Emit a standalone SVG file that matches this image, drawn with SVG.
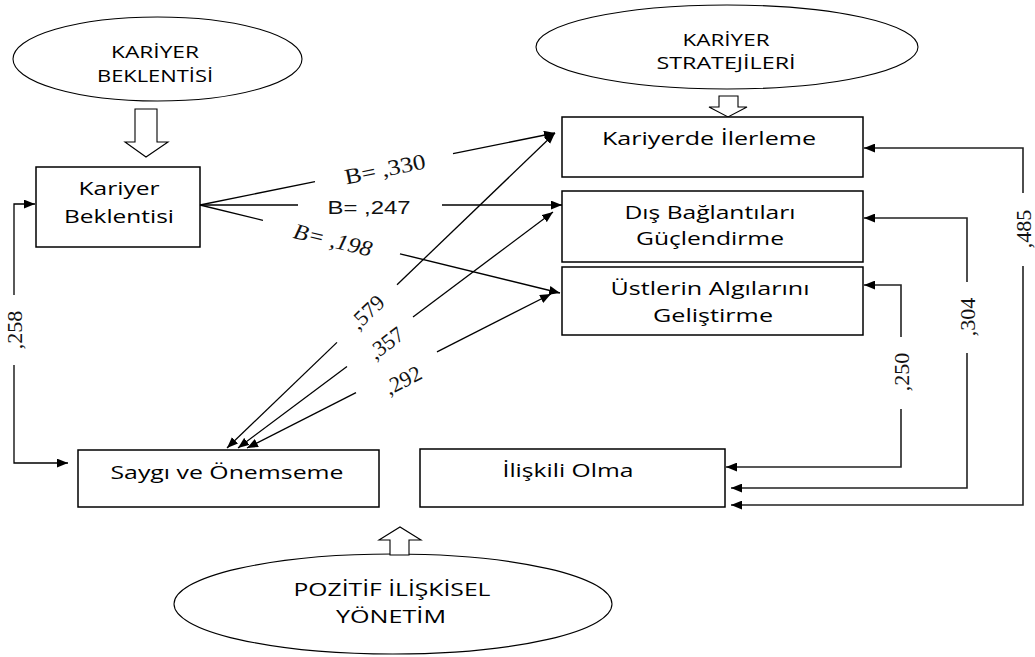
<svg xmlns="http://www.w3.org/2000/svg" width="1035" height="657" viewBox="0 0 1035 657">
<style>
.box{fill:#fff;stroke:#000;stroke-width:1.5}
.ell{fill:#fff;stroke:#000;stroke-width:1.1}
.hol{fill:#fff;stroke:#000;stroke-width:1.1}
.t{font-family:"Open Sans","DejaVu Sans",sans-serif;font-size:19px;fill:#000;text-anchor:middle}
.h{font-family:"Open Sans","DejaVu Sans",sans-serif;font-size:16px;fill:#000;text-anchor:middle}
.n{font-family:"Liberation Serif","Times New Roman",serif;font-size:22px;fill:#111;text-anchor:middle;dominant-baseline:central}
.c{fill:none;stroke:#000;stroke-width:1.3}
.r{fill:none;stroke:#222;stroke-width:1.6}
</style>
<defs>
<marker id="a" viewBox="0 0 10 8" refX="10" refY="4" markerWidth="11" markerHeight="9" markerUnits="userSpaceOnUse" orient="auto-start-reverse">
<path d="M0,0 L10,4 L0,8 z" fill="#000"/>
</marker>
</defs>

<g id="node-kariyer-beklentisi-ellipse">
<ellipse class="ell" cx="157.5" cy="59" rx="144.5" ry="42"/>
<text class="h" x="155" y="58" textLength="88" lengthAdjust="spacingAndGlyphs">KARİYER</text>
<text class="h" x="155" y="82" textLength="116" lengthAdjust="spacingAndGlyphs">BEKLENTİSİ</text>
<polygon class="hol" points="135,109 157,109 157,142 168,142 146,157 125,142 135,142"/>
</g>

<g id="node-kariyer-stratejileri-ellipse">
<ellipse class="ell" cx="727" cy="47" rx="191" ry="42"/>
<text class="h" x="726" y="46" textLength="87" lengthAdjust="spacingAndGlyphs">KARİYER</text>
<text class="h" x="726" y="69" textLength="139" lengthAdjust="spacingAndGlyphs">STRATEJİLERİ</text>
<polygon class="hol" points="719,96 738,96 738,107 747,107 728,117 709,107 719,107"/>
</g>

<g id="node-pozitif-iliskisel-yonetim">
<ellipse class="ell" cx="393" cy="604" rx="219" ry="50"/>
<text class="h" style="font-size:18px" x="392" y="596" textLength="197" lengthAdjust="spacingAndGlyphs">POZİTİF İLİŞKİSEL</text>
<text class="h" style="font-size:18px" x="391" y="623" textLength="110" lengthAdjust="spacingAndGlyphs">YÖNETİM</text>
<polygon class="hol" points="390,555 390,540 379,540 400,527 421,540 409,540 409,555"/>
</g>

<g id="node-kariyer-beklentisi">
<rect class="box" x="36" y="167" width="164" height="80"/>
<text class="t" x="119" y="195" textLength="81" lengthAdjust="spacingAndGlyphs">Kariyer</text>
<text class="t" x="119" y="223" textLength="110" lengthAdjust="spacingAndGlyphs">Beklentisi</text>
</g>

<g id="node-kariyerde-ilerleme">
<rect class="box" x="562" y="117" width="301" height="60"/>
<text class="t" x="709" y="145" textLength="214" lengthAdjust="spacingAndGlyphs">Kariyerde İlerleme</text>
</g>

<g id="node-dis-baglantilari">
<rect class="box" x="562" y="191" width="301" height="71"/>
<text class="t" x="710" y="219" textLength="171" lengthAdjust="spacingAndGlyphs">Dış Bağlantıları</text>
<text class="t" x="710" y="245" textLength="148" lengthAdjust="spacingAndGlyphs">Güçlendirme</text>
</g>

<g id="node-ustlerin-algilari">
<rect class="box" x="562" y="267" width="301" height="68"/>
<text class="t" x="710" y="295" textLength="199" lengthAdjust="spacingAndGlyphs">Üstlerin Algılarını</text>
<text class="t" x="713" y="322" textLength="120" lengthAdjust="spacingAndGlyphs">Geliştirme</text>
</g>

<g id="node-saygi-ve-onemseme">
<rect class="box" x="78" y="450" width="301" height="57"/>
<text class="t" x="227" y="479" textLength="233" lengthAdjust="spacingAndGlyphs">Saygı ve Önemseme</text>
</g>

<g id="node-iliskili-olma">
<rect class="box" x="420" y="449" width="305" height="58"/>
<text class="t" x="568" y="477" textLength="131" lengthAdjust="spacingAndGlyphs">İlişkili Olma</text>
</g>

<g id="connectors">
<line class="c" x1="200" y1="205" x2="315" y2="181.6"/>
<line class="c" x1="453" y1="153.6" x2="555" y2="133" marker-end="url(#a)"/>
<text class="n" transform="translate(385,169) rotate(-11.5)" textLength="82" lengthAdjust="spacingAndGlyphs">B= ,330</text>

<line class="c" x1="200" y1="205" x2="298" y2="205"/>
<line class="c" x1="442" y1="205" x2="562" y2="205" marker-end="url(#a)"/>
<text class="n" style="font-family:'Liberation Sans',Arial,sans-serif;font-size:19px" x="369" y="207" textLength="83" lengthAdjust="spacingAndGlyphs">B= ,247</text>

<line class="c" x1="200" y1="205" x2="263" y2="220.4"/>
<line class="c" x1="400" y1="253.8" x2="560" y2="293" marker-end="url(#a)"/>
<text class="n" style="font-style:italic" transform="translate(333,240) rotate(13.7)" textLength="80" lengthAdjust="spacingAndGlyphs">B= ,198</text>

<line class="c" x1="227" y1="448" x2="337" y2="342.4" marker-start="url(#a)"/>
<line class="c" x1="397" y1="284.8" x2="555" y2="133" marker-end="url(#a)"/>
<text class="n" transform="translate(367,312) rotate(-44)">,579</text>

<line class="c" x1="238" y1="448" x2="347" y2="366.4" marker-start="url(#a)"/>
<line class="c" x1="413" y1="316.9" x2="553" y2="212" marker-end="url(#a)"/>
<text class="n" transform="translate(386,343) rotate(-37)">,357</text>

<line class="c" x1="247" y1="448" x2="356" y2="392.6" marker-start="url(#a)"/>
<line class="c" x1="437" y1="351.9" x2="551" y2="294" marker-end="url(#a)"/>
<text class="n" transform="translate(403,380) rotate(-27)">,292</text>

<polyline class="c" points="14,295 14,204 35,204" marker-end="url(#a)"/>
<polyline class="c" points="14,365 14,463 68,463" marker-end="url(#a)"/>
<text class="n" transform="translate(14,330) rotate(-90)">,258</text>

<polyline class="r" points="1023,193 1023,148 864,148" marker-end="url(#a)"/>
<polyline class="r" points="1023,266 1023,505 731,505" marker-end="url(#a)"/>
<text class="n" transform="translate(1023,229) rotate(-90)">,485</text>

<polyline class="r" points="967,282 967,218 864,218" marker-end="url(#a)"/>
<polyline class="r" points="967,353 967,488 731,488" marker-end="url(#a)"/>
<text class="n" transform="translate(967,317) rotate(-90)">,304</text>

<polyline class="r" points="901,337 901,285 864,285" marker-end="url(#a)"/>
<polyline class="r" points="901,409 901,467 726,467" marker-end="url(#a)"/>
<text class="n" transform="translate(901,372) rotate(-90)">,250</text>
</g>
</svg>
